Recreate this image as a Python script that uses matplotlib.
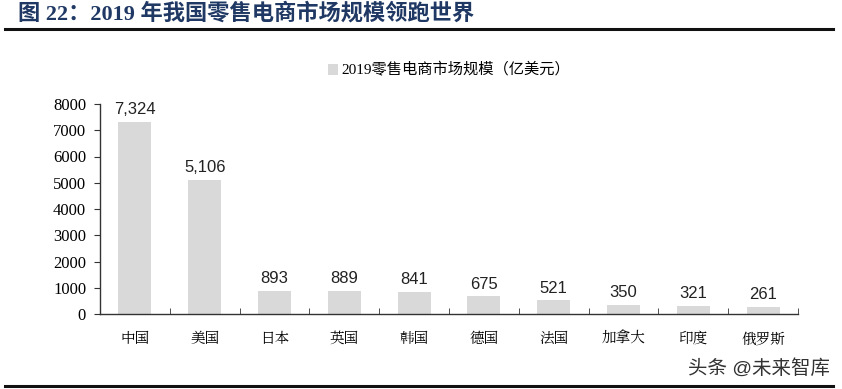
import matplotlib.pyplot as plt
import numpy as np

countries = ['中国', '美国', '日本', '英国', '韩国', '德国', '法国', '加拿大', '印度', '俄罗斯']
sales = [7324, 5106, 893, 889, 841, 675, 521, 350, 321, 261]
yticks = [0, 1000, 2000, 3000, 4000, 5000, 6000, 7000, 8000]

serif = ['Liberation Serif', 'Noto Sans CJK SC']
sans = ['Liberation Sans', 'Noto Sans CJK SC']

fig = plt.figure(figsize=(8.42, 3.89), dpi=100)
ax = fig.add_axes([100 / 842, 1 - 314 / 389, 698 / 842, 210 / 389])

x = np.arange(len(countries))
bars = ax.bar(x, sales, width=0.47, color='#d9d9d9', zorder=2)

for xi, v in zip(x, sales):
    ax.text(xi, v + 180, f'{v:,}', ha='center', va='bottom',
            fontsize=12, family=sans, color='#222222')

ax.set_xlim(-0.5, len(countries) - 0.5)
ax.set_ylim(0, 8000)
ax.set_yticks(yticks)
ax.set_yticklabels([str(t) for t in yticks], family=serif, fontsize=12)
ax.set_xticks(x)
ax.set_xticklabels(countries, family=['Noto Serif CJK SC', 'Noto Sans CJK SC'], fontsize=10.5)
ax.set_xticks(np.arange(len(countries) + 1) - 0.5, minor=True)
ax.tick_params(axis='x', which='major', length=0, pad=12)
ax.tick_params(axis='x', which='minor', direction='in', length=4, color='#333333')
ax.tick_params(axis='y', direction='out', length=4, color='#333333', pad=6)

for s in ['top', 'right']:
    ax.spines[s].set_visible(False)
for s in ['left', 'bottom']:
    ax.spines[s].set_color('#333333')
    ax.spines[s].set_linewidth(1.0)

# legend
ax.legend([bars], ['2019零售电商市场规模（亿美元）'], loc='lower center',
          bbox_to_anchor=(0.5, 1.06), frameon=False, handlelength=0.7,
          handleheight=0.7, handletextpad=0.2,
          prop={'family': serif, 'size': 11})

# title and rules
fig.text(18 / 842, 1 - 14 / 389, '图 22：2019 年我国零售电商市场规模领跑世界',
         ha='left', va='center', fontsize=16, fontweight='bold',
         color='#1f3864', family=serif)
fig.add_artist(plt.Line2D([5 / 842, 833 / 842], [1 - 29 / 389] * 2,
                          color='#111111', linewidth=2.2))
fig.add_artist(plt.Line2D([5 / 842, 833 / 842], [1 - 386 / 389] * 2,
                          color='#111111', linewidth=2.2))

fig.text(830 / 842, 1 - 368 / 389, '头条 @未来智库', ha='right', va='center',
         fontsize=14, color='#333333', family=sans)

fig.savefig('out.png', dpi=100)
plt.close(fig)
